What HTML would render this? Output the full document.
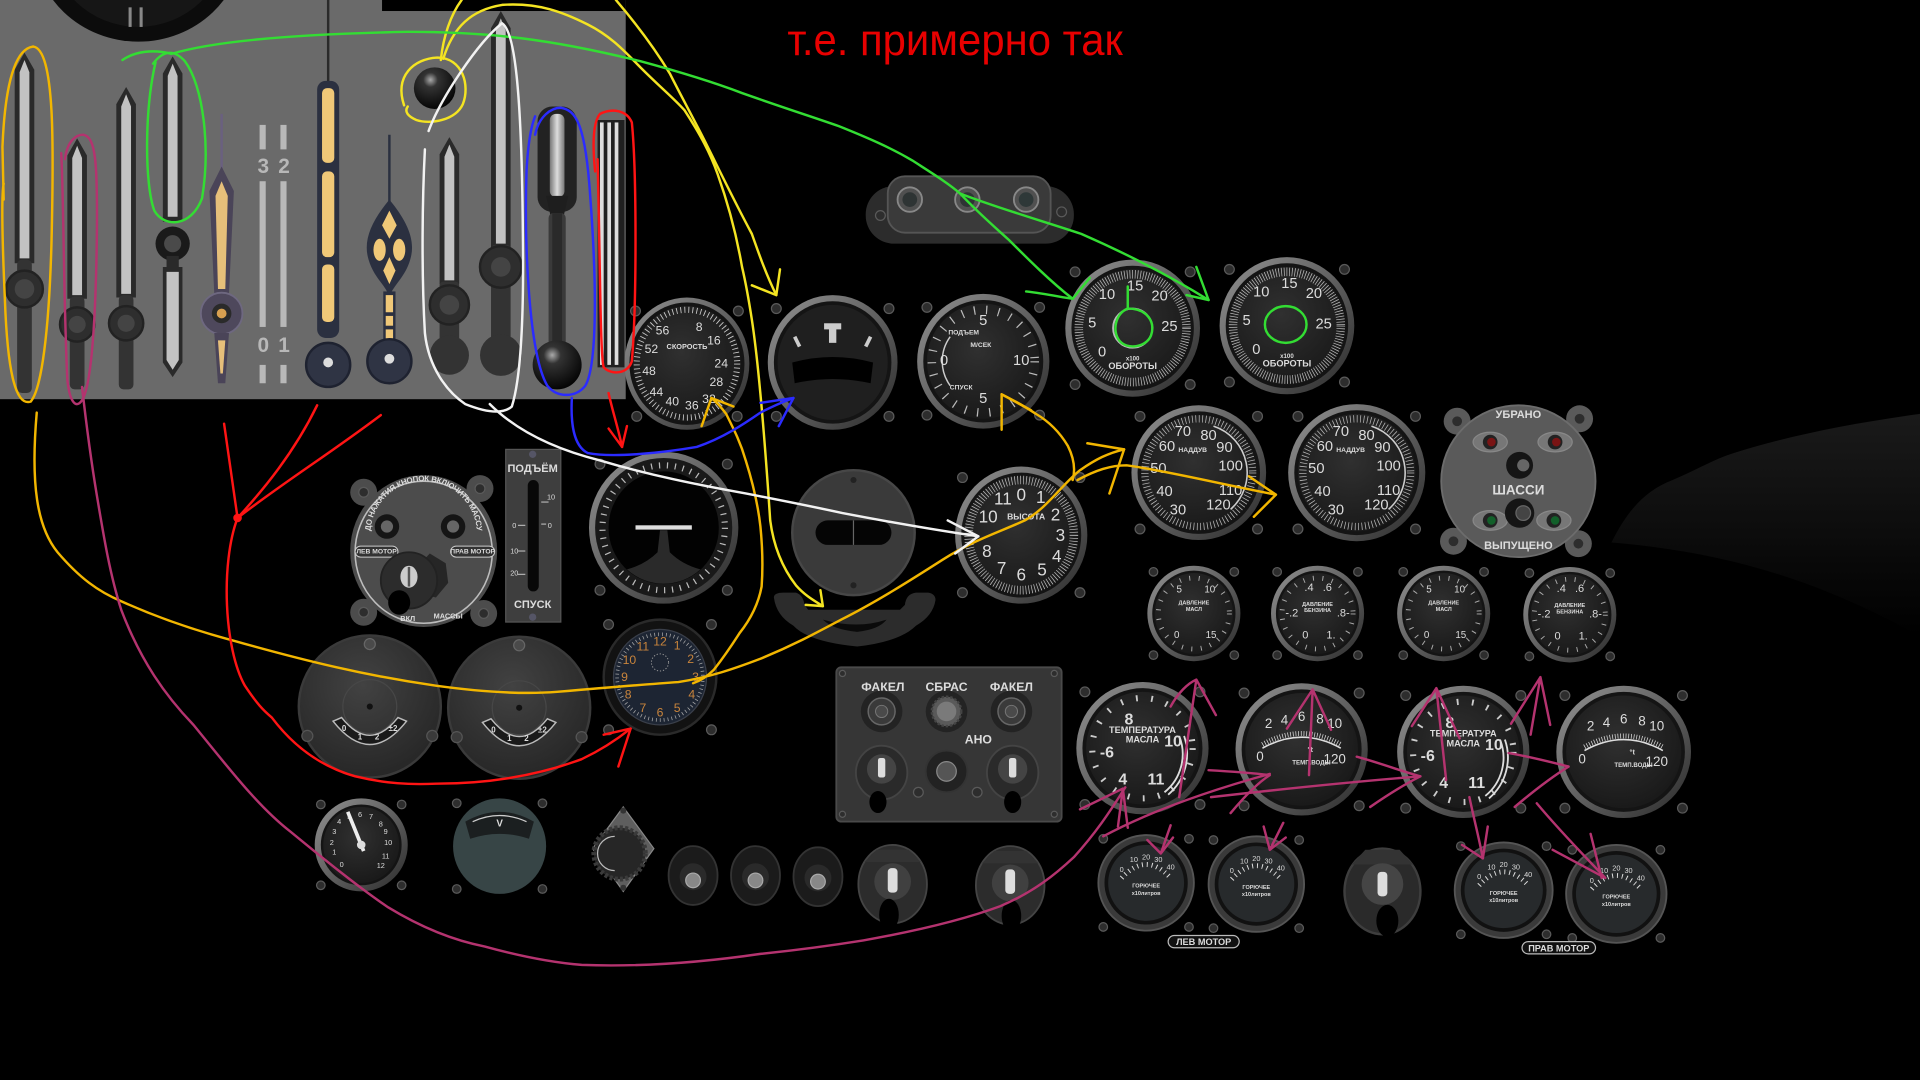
<!DOCTYPE html>
<html><head><meta charset="utf-8"><style>
html,body{margin:0;padding:0;background:#000;width:1920px;height:1080px;overflow:hidden}
svg{display:block;font-weight:bold}
text{font-family:"Liberation Sans Narrow","Liberation Sans","DejaVu Sans",sans-serif;fill:#dcdcdc;text-anchor:middle;dominant-baseline:central}
.clk text{fill:#c8843c}
.sc{fill:#2d2d2d;stroke:#5a5a5a;stroke-width:1}
.an{fill:none;stroke-width:2;stroke-linecap:round;stroke-linejoin:round}
.am{stroke:#f2b600}.ye{stroke:#f4e422}.gr{stroke:#33dd33}.wh{stroke:#f2f2f2}.bl{stroke:#2b2bff}.rd{stroke:#ff1414}.mg{stroke:#b4336f}
</style></head><body>
<svg width="1920" height="1080" viewBox="0 0 1568 882" xmlns="http://www.w3.org/2000/svg">
<defs>
<linearGradient id="rim" x1="0" y1="0" x2="1" y2="1"><stop offset="0" stop-color="#929292"/><stop offset=".5" stop-color="#606060"/><stop offset="1" stop-color="#2a2a2a"/></linearGradient>
<radialGradient id="face" cx=".45" cy=".4" r=".65"><stop offset="0" stop-color="#303030"/><stop offset="1" stop-color="#181818"/></radialGradient>
<radialGradient id="disc" cx=".45" cy=".35" r=".7"><stop offset="0" stop-color="#424242"/><stop offset="1" stop-color="#252525"/></radialGradient>
<radialGradient id="ball" cx=".4" cy=".3" r=".7"><stop offset="0" stop-color="#aaa"/><stop offset=".25" stop-color="#333"/><stop offset="1" stop-color="#050505"/></radialGradient>
<linearGradient id="vg" x1="0" x2="1"><stop offset="0" stop-color="#777"/><stop offset=".5" stop-color="#ddd"/><stop offset="1" stop-color="#777"/></linearGradient>
<linearGradient id="blob" x1="0" y1="0" x2="0" y2="1"><stop offset="0" stop-color="#1a1a1a"/><stop offset="1" stop-color="#000"/></linearGradient>
<path id="magArc" d="M301,446 A46,46 0 1 1 391,446"/>
</defs>

<!-- ===== top-left panel ===== -->
<rect x="0" y="0" width="511" height="326" fill="#6a6a6a"/>
<ellipse cx="113" cy="-48" rx="86" ry="82" fill="#0c0c0c"/>
<ellipse cx="113" cy="-48" rx="72" ry="70" fill="#161616"/>
<rect x="105" y="6" width="2.5" height="16" fill="#888"/><rect x="114" y="6" width="2.5" height="16" fill="#888"/>
<rect x="312" y="0" width="199" height="9" fill="#000"/>

<g><path d="M20,43 L28,57 L28,215 L12,215 L12,57 Z" fill="#2a2a2a"/><path d="M20,49 L24,59 L24,211 L16,211 L16,59 Z" fill="#c2c2c2"/>
<rect x="14" y="212" width="12" height="109" rx="4" fill="#333"/><circle cx="20" cy="236" r="15" fill="#2e2e2e" stroke="#222" stroke-width="2"/><circle cx="20" cy="236" r="8" fill="#444"/></g>
<g><path d="M63,113 L71,127 L71,244 L55,244 L55,127 Z" fill="#2a2a2a"/><path d="M63,119 L67,129 L67,241 L59,241 L59,129 Z" fill="#c2c2c2"/>
<rect x="57" y="242" width="12" height="76" rx="4" fill="#333"/><circle cx="63" cy="265" r="14" fill="#2e2e2e" stroke="#222" stroke-width="2"/><circle cx="63" cy="265" r="7" fill="#444"/></g>
<g><path d="M103,71 L111,85 L111,243 L95,243 L95,85 Z" fill="#2a2a2a"/><path d="M103,77 L107,87 L107,240 L99,240 L99,87 Z" fill="#c2c2c2"/>
<rect x="97" y="241" width="12" height="77" rx="4" fill="#333"/><circle cx="103" cy="264" r="14" fill="#2e2e2e" stroke="#222" stroke-width="2"/><circle cx="103" cy="264" r="7" fill="#444"/></g>
<g><path d="M141,46 L149,60 L149,181 L133,181 L133,60 Z" fill="#2a2a2a"/><path d="M141,52 L145,62 L145,177 L137,177 L137,62 Z" fill="#c2c2c2"/>
<circle cx="141" cy="199" r="14" fill="#1a1a1a"/><circle cx="141" cy="199" r="7" fill="#4a4a4a"/>
<rect x="136" y="209" width="10" height="13" fill="#2a2a2a"/>
<path d="M133,218 L149,218 L149,296 L141,308 L133,296 Z" fill="#2a2a2a"/><path d="M136,222 L146,222 L146,294 L141,302 L136,294 Z" fill="#c2c2c2"/></g>
<g><line x1="181" y1="93" x2="181" y2="140" stroke="#6a6080" stroke-width="2"/>
<path d="M181,136 L191,156 L187,240 L175,240 L171,156 Z" fill="#4a4458"/><path d="M181,148 L186,160 L184,236 L178,236 L176,160 Z" fill="#e6bf7a"/>
<circle cx="181" cy="256" r="17" fill="#4e485c" stroke="#6e6880" stroke-width="1.5"/><circle cx="181" cy="256" r="8" fill="#2a2a2a"/><circle cx="181" cy="256" r="4" fill="#d8a050"/>
<path d="M175,272 L187,272 L184,313 L178,313 Z" fill="#4a4458"/><path d="M178,278 L184,278 L182,305 L180,305 Z" fill="#e6bf7a"/></g>
<g fill="#b8b8b8"><rect x="212" y="102" width="5" height="20"/><rect x="229" y="102" width="5" height="20"/>
<rect x="212" y="148" width="5" height="119"/><rect x="229" y="148" width="5" height="119"/>
<rect x="212" y="298" width="5" height="15"/><rect x="229" y="298" width="5" height="15"/></g>
<text x="215" y="136" style="font-size:17px;fill:#b8b8b8">3</text><text x="232" y="136" style="font-size:17px;fill:#b8b8b8">2</text>
<text x="215" y="282" style="font-size:17px;fill:#b8b8b8">0</text><text x="232" y="282" style="font-size:17px;fill:#b8b8b8">1</text>
<g><line x1="268" y1="0" x2="268" y2="68" stroke="#2a2a2a" stroke-width="2"/>
<rect x="259" y="66" width="18" height="210" rx="7" fill="#2b3040"/>
<rect x="263" y="72" width="10" height="61" rx="4" fill="#f0c878"/><rect x="263" y="140" width="10" height="70" rx="4" fill="#f0c878"/><rect x="263" y="216" width="10" height="47" rx="4" fill="#f0c878"/>
<circle cx="268" cy="298" r="18" fill="#2f3444" stroke="#1e2230" stroke-width="2"/><circle cx="268" cy="296" r="4" fill="#ddd"/></g>
<g><line x1="318" y1="110" x2="318" y2="166" stroke="#2a3040" stroke-width="2"/>
<path d="M318,163 C332,180 340,196 335,212 C331,226 322,232 318,242 C314,232 305,226 301,212 C296,196 304,180 318,163 Z" fill="#2b3040"/>
<path d="M318,172 L324,184 L318,195 L312,184 Z" fill="#f0c878"/><ellipse cx="310" cy="204" rx="5" ry="9" fill="#f0c878"/><ellipse cx="326" cy="204" rx="5" ry="9" fill="#f0c878"/>
<path d="M318,210 L323,221 L318,232 L313,221 Z" fill="#f0c878"/>
<rect x="313" y="238" width="10" height="44" fill="#2b3040"/><rect x="315" y="241" width="6" height="14" fill="#f0c878"/><rect x="315" y="258" width="6" height="8" fill="#f0c878"/><rect x="315" y="269" width="6" height="8" fill="#f0c878"/>
<circle cx="318" cy="295" r="18" fill="#2f3444" stroke="#1e2230" stroke-width="2"/><circle cx="318" cy="293" r="4" fill="#ddd"/></g>
<g><path d="M367,112 L375,126 L375,232 L359,232 L359,126 Z" fill="#2a2a2a"/><path d="M367,118 L371,128 L371,229 L363,229 L363,128 Z" fill="#c2c2c2"/>
<rect x="359" y="230" width="16" height="62" rx="3" fill="#333"/><circle cx="367" cy="249" r="16" fill="#2e2e2e" stroke="#222" stroke-width="2"/><circle cx="367" cy="249" r="8" fill="#444"/>
<circle cx="367" cy="290" r="16" fill="#333"/></g>
<g><path d="M409,9 L417,23 L417,202 L401,202 L401,23 Z" fill="#2a2a2a"/><path d="M409,15 L413,25 L413,199 L405,199 L405,25 Z" fill="#c2c2c2"/>
<rect x="401" y="200" width="16" height="92" rx="3" fill="#333"/><circle cx="409" cy="218" r="17" fill="#2e2e2e" stroke="#222" stroke-width="2"/><circle cx="409" cy="218" r="8" fill="#444"/>
<circle cx="409" cy="290" r="17" fill="#333"/></g>
<g><rect x="439" y="87" width="32" height="86" rx="12" fill="#222"/><rect x="449" y="93" width="12" height="68" rx="5" fill="url(#vg)"/>
<path d="M446,160 L464,160 L460,178 L450,178 Z" fill="#1e1e1e"/><rect x="448" y="174" width="14" height="115" rx="4" fill="#3a3a3a"/><rect x="451" y="174" width="8" height="115" fill="#2a2a2a"/>
<circle cx="455" cy="298" r="20" fill="url(#ball)"/></g>
<g><rect x="488" y="98" width="22" height="202" fill="#202020"/><rect x="490" y="100" width="3" height="198" fill="#ddd"/><rect x="496" y="100" width="3" height="198" fill="#ddd"/><rect x="502" y="100" width="3" height="198" fill="#ddd"/></g>
<circle cx="355" cy="72" r="17" fill="url(#ball)"/>

<!-- right dark blob -->
<path d="M1316,443 C1330,415 1345,400 1366,392 C1385,384 1400,375 1416,370 C1460,356 1510,346 1568,338 L1568,520 C1480,470 1400,450 1316,443 Z" fill="url(#blob)"/>

<!-- periscope bracket -->
<g><rect x="707" y="152" width="170" height="47" rx="23" fill="#2c2c2c"/><rect x="725" y="144" width="133" height="46" rx="14" fill="#3a3a3a" stroke="#555" stroke-width="1.5"/>
<circle cx="743" cy="163" r="10" fill="#505050" stroke="#888" stroke-width="1.5"/><circle cx="743" cy="163" r="6" fill="#2e3434"/>
<circle cx="790" cy="163" r="10" fill="#505050" stroke="#888" stroke-width="1.5"/><circle cx="790" cy="163" r="6" fill="#2e3434"/>
<circle cx="838" cy="163" r="10" fill="#505050" stroke="#888" stroke-width="1.5"/><circle cx="838" cy="163" r="6" fill="#2e3838"/>
<circle cx="719" cy="176" r="4" class="sc"/><circle cx="867" cy="173" r="4" class="sc"/></g>

<!-- SPEED -->
<g transform="translate(561,297)">
<circle cx="-42" cy="-43" r="4" class="sc"/><circle cx="42" cy="-43" r="4" class="sc"/><circle cx="-41" cy="43" r="4" class="sc"/><circle cx="41" cy="43" r="4" class="sc"/>
<ellipse rx="51" ry="54" fill="url(#rim)"/><ellipse rx="47" ry="50" fill="#141414"/><ellipse rx="44" ry="47" fill="url(#face)"/>
<ellipse rx="41" ry="44" fill="none" stroke="#ccc" stroke-width="5" stroke-dasharray="0.7 2.6"/>
<g style="font-size:10px;font-weight:normal"><text x="-20" y="-27">56</text><text x="10" y="-30">8</text><text x="22" y="-19">16</text><text x="-29" y="-12">52</text><text x="28" y="0">24</text><text x="-31" y="6">48</text><text x="24" y="15">28</text><text x="-25" y="23">44</text><text x="18" y="29">32</text><text x="-12" y="31">40</text><text x="4" y="34">36</text></g>
<text x="0" y="-14" style="font-size:6px">СКОРОСТЬ</text></g>

<!-- HORIZON -->
<g transform="translate(680,296)">
<circle cx="-46" cy="-44" r="4" class="sc"/><circle cx="46" cy="-44" r="4" class="sc"/><circle cx="-46" cy="44" r="4" class="sc"/><circle cx="46" cy="44" r="4" class="sc"/>
<ellipse rx="53" ry="55" fill="url(#rim)"/><ellipse rx="48" ry="50" fill="#141414"/><ellipse rx="45" ry="47" fill="#1f1f1f"/>
<rect x="-7" y="-32" width="14" height="5" fill="#ccc"/><path d="M-3,-28 L3,-28 L3,-16 L-3,-16 Z" fill="#ccc"/>
<line x1="-31" y1="-21" x2="-27" y2="-13" stroke="#ccc" stroke-width="3"/><line x1="31" y1="-21" x2="27" y2="-13" stroke="#ccc" stroke-width="3"/>
<path d="M-33,0 Q0,-9 33,0 L31,17 Q0,10 -31,17 Z" fill="#000"/></g>

<!-- VARIOMETER -->
<g transform="translate(803,295)">
<circle cx="-46" cy="-44" r="4" class="sc"/><circle cx="46" cy="-44" r="4" class="sc"/><circle cx="-46" cy="44" r="4" class="sc"/><circle cx="46" cy="44" r="4" class="sc"/>
<ellipse rx="54" ry="55" fill="url(#rim)"/><ellipse rx="49" ry="50" fill="#141414"/><ellipse rx="46" ry="47" fill="url(#face)"/>
<circle r="42" fill="none" stroke="#bbb" stroke-width="7" stroke-dasharray="1 9"/>
<path d="M-27,-20 A34,34 0 0 0 -27,20" fill="none" stroke="#ccc" stroke-width="1.2"/>
<g style="font-size:12px;font-weight:normal"><text x="0" y="-33">5</text><text x="-32" y="0">0</text><text x="31" y="0">10</text><text x="0" y="31">5</text></g>
<g style="font-size:5.5px"><text x="-16" y="-23">ПОДЪЕМ</text><text x="-2" y="-13">М/СЕК</text><text x="-18" y="22">СПУСК</text></g></g>

<!-- TACH 1 -->
<g transform="translate(925,268)">
<circle cx="-47" cy="-46" r="4" class="sc"/><circle cx="47" cy="-46" r="4" class="sc"/><circle cx="-47" cy="46" r="4" class="sc"/><circle cx="47" cy="46" r="4" class="sc"/>
<ellipse rx="55" ry="56" fill="url(#rim)"/><ellipse rx="50" ry="51" fill="#141414"/><ellipse rx="47" ry="48" fill="url(#face)"/>
<circle r="44" fill="none" stroke="#bbb" stroke-width="7" stroke-dasharray="0.6 1.6"/>
<circle r="16" fill="none" stroke="#bbb" stroke-width="1.5"/>
<g style="font-size:12px;font-weight:normal"><text x="2" y="-34">15</text><text x="-21" y="-27">10</text><text x="22" y="-26">20</text><text x="-33" y="-4">5</text><text x="30" y="-1">25</text><text x="-25" y="20">0</text></g>
<text x="0" y="25" style="font-size:5px">х100</text><text x="0" y="31" style="font-size:7.5px">ОБОРОТЫ</text></g>

<!-- TACH 2 -->
<g transform="translate(1051,266)">
<circle cx="-47" cy="-46" r="4" class="sc"/><circle cx="47" cy="-46" r="4" class="sc"/><circle cx="-47" cy="46" r="4" class="sc"/><circle cx="47" cy="46" r="4" class="sc"/>
<ellipse rx="55" ry="56" fill="url(#rim)"/><ellipse rx="50" ry="51" fill="#141414"/><ellipse rx="47" ry="48" fill="url(#face)"/>
<circle r="44" fill="none" stroke="#bbb" stroke-width="7" stroke-dasharray="0.6 1.6"/>
<g style="font-size:12px;font-weight:normal"><text x="2" y="-34">15</text><text x="-21" y="-27">10</text><text x="22" y="-26">20</text><text x="-33" y="-4">5</text><text x="30" y="-1">25</text><text x="-25" y="20">0</text></g>
<text x="0" y="25" style="font-size:5px">х100</text><text x="0" y="31" style="font-size:7.5px">ОБОРОТЫ</text></g>

<!-- NADDUV 1 & 2 -->
<g transform="translate(979,386)">
<circle cx="-48" cy="-46" r="4" class="sc"/><circle cx="48" cy="-46" r="4" class="sc"/><circle cx="-48" cy="46" r="4" class="sc"/><circle cx="48" cy="46" r="4" class="sc"/>
<ellipse rx="55" ry="55" fill="url(#rim)"/><ellipse rx="50" ry="50" fill="#141414"/><ellipse rx="47" ry="47" fill="url(#face)"/>
<circle r="44" fill="none" stroke="#bbb" stroke-width="6" stroke-dasharray="0.6 2.2"/>
<path d="M12,-38 A40,40 0 0 1 26,30" fill="none" stroke="#ccc" stroke-width="1.3"/>
<g style="font-size:12px;font-weight:normal"><text x="-13" y="-33">70</text><text x="8" y="-30">80</text><text x="-26" y="-21">60</text><text x="21" y="-20">90</text><text x="-33" y="-3">50</text><text x="26" y="-5">100</text><text x="-28" y="16">40</text><text x="26" y="15">110</text><text x="-17" y="31">30</text><text x="16" y="27">120</text></g>
<text x="-5" y="-18" style="font-size:5.5px">НАДДУВ</text></g>
<g transform="translate(1108,386)">
<circle cx="-48" cy="-46" r="4" class="sc"/><circle cx="48" cy="-46" r="4" class="sc"/><circle cx="-48" cy="46" r="4" class="sc"/><circle cx="48" cy="46" r="4" class="sc"/>
<ellipse rx="56" ry="56" fill="url(#rim)"/><ellipse rx="51" ry="51" fill="#141414"/><ellipse rx="48" ry="48" fill="url(#face)"/>
<circle r="44" fill="none" stroke="#bbb" stroke-width="6" stroke-dasharray="0.6 2.2"/>
<path d="M12,-38 A40,40 0 0 1 26,30" fill="none" stroke="#ccc" stroke-width="1.3"/>
<g style="font-size:12px;font-weight:normal"><text x="-13" y="-33">70</text><text x="8" y="-30">80</text><text x="-26" y="-21">60</text><text x="21" y="-20">90</text><text x="-33" y="-3">50</text><text x="26" y="-5">100</text><text x="-28" y="16">40</text><text x="26" y="15">110</text><text x="-17" y="31">30</text><text x="16" y="27">120</text></g>
<text x="-5" y="-18" style="font-size:5.5px">НАДДУВ</text></g>

<!-- SHASSI panel -->
<g transform="translate(1240,393)">
<circle cx="-50" cy="-49" r="11" fill="#5a5a5a"/><circle cx="50" cy="-51" r="11" fill="#5a5a5a"/><circle cx="-53" cy="49" r="11" fill="#5a5a5a"/><circle cx="49" cy="51" r="11" fill="#5a5a5a"/>
<ellipse rx="63" ry="62" fill="#5a5a5a" stroke="#6c6c6c" stroke-width="1.5"/>
<circle cx="-50" cy="-49" r="4.5" class="sc"/><circle cx="50" cy="-51" r="4.5" class="sc"/><circle cx="-53" cy="49" r="4.5" class="sc"/><circle cx="49" cy="51" r="4.5" class="sc"/>
<ellipse cx="-23" cy="-32" rx="14" ry="8" fill="#777" stroke="#888"/><circle cx="-23" cy="-32" r="6" fill="#222"/><circle cx="-22" cy="-32" r="3.5" fill="#7a1414"/>
<ellipse cx="30" cy="-32" rx="14" ry="8" fill="#777" stroke="#888"/><circle cx="30" cy="-32" r="6" fill="#222"/><circle cx="31" cy="-32" r="3.5" fill="#7a1414"/>
<ellipse cx="-23" cy="32" rx="14" ry="8" fill="#777" stroke="#888"/><circle cx="-23" cy="32" r="6" fill="#222"/><circle cx="-22" cy="32" r="3.5" fill="#12602a"/>
<ellipse cx="29" cy="32" rx="14" ry="8" fill="#777" stroke="#888"/><circle cx="29" cy="32" r="6" fill="#222"/><circle cx="30" cy="32" r="3.5" fill="#12602a"/>
<circle cx="1" cy="-13" r="11" fill="#151515"/><circle cx="4" cy="-13" r="5" fill="#666"/>
<circle cx="1" cy="26" r="12" fill="#151515"/><circle cx="4" cy="26" r="6" fill="#444" stroke="#666"/>
<text x="0" y="-54" style="font-size:9px">УБРАНО</text><text x="0" y="7" style="font-size:11px">ШАССИ</text><text x="0" y="53" style="font-size:9px">ВЫПУЩЕНО</text></g>

<!-- small pressure gauges -->
<g transform="translate(975,501)">
<circle cx="-33" cy="-34" r="3.5" class="sc"/><circle cx="33" cy="-34" r="3.5" class="sc"/><circle cx="-33" cy="34" r="3.5" class="sc"/><circle cx="33" cy="34" r="3.5" class="sc"/>
<ellipse rx="38" ry="39" fill="url(#rim)"/><ellipse rx="34" ry="35" fill="#141414"/><ellipse rx="32" ry="33" fill="url(#face)"/>
<circle r="29" fill="none" stroke="#aaa" stroke-width="4" stroke-dasharray="0.8 7"/>
<g style="font-size:8px;font-weight:normal"><text x="-12" y="-19">5</text><text x="13" y="-19">10</text><text x="-14" y="18">0</text><text x="14" y="18">15</text></g>
<text x="0" y="-8" style="font-size:4.5px">ДАВЛЕНИЕ</text><text x="0" y="-3" style="font-size:4.5px">МАСЛ</text></g>
<g transform="translate(1076,501)">
<circle cx="-33" cy="-34" r="3.5" class="sc"/><circle cx="33" cy="-34" r="3.5" class="sc"/><circle cx="-33" cy="34" r="3.5" class="sc"/><circle cx="33" cy="34" r="3.5" class="sc"/>
<ellipse rx="38" ry="39" fill="url(#rim)"/><ellipse rx="34" ry="35" fill="#141414"/><ellipse rx="32" ry="33" fill="url(#face)"/>
<circle r="29" fill="none" stroke="#aaa" stroke-width="4" stroke-dasharray="0.8 7"/>
<g style="font-size:9px;font-weight:normal"><text x="-7" y="-21">.4</text><text x="8" y="-21">.6</text><text x="-21" y="0">-.2</text><text x="21" y="0">.8-</text><text x="-10" y="18">0</text><text x="11" y="18">1.</text></g>
<text x="0" y="-7" style="font-size:4.5px">ДАВЛЕНИЕ</text><text x="0" y="-2" style="font-size:4.5px">БЕНЗИНА</text></g>
<g transform="translate(1179,501)">
<circle cx="-33" cy="-34" r="3.5" class="sc"/><circle cx="33" cy="-34" r="3.5" class="sc"/><circle cx="-33" cy="34" r="3.5" class="sc"/><circle cx="33" cy="34" r="3.5" class="sc"/>
<ellipse rx="38" ry="39" fill="url(#rim)"/><ellipse rx="34" ry="35" fill="#141414"/><ellipse rx="32" ry="33" fill="url(#face)"/>
<circle r="29" fill="none" stroke="#aaa" stroke-width="4" stroke-dasharray="0.8 7"/>
<g style="font-size:8px;font-weight:normal"><text x="-12" y="-19">5</text><text x="13" y="-19">10</text><text x="-14" y="18">0</text><text x="14" y="18">15</text></g>
<text x="0" y="-8" style="font-size:4.5px">ДАВЛЕНИЕ</text><text x="0" y="-3" style="font-size:4.5px">МАСЛ</text></g>
<g transform="translate(1282,502)">
<circle cx="-33" cy="-34" r="3.5" class="sc"/><circle cx="33" cy="-34" r="3.5" class="sc"/><circle cx="-33" cy="34" r="3.5" class="sc"/><circle cx="33" cy="34" r="3.5" class="sc"/>
<ellipse rx="38" ry="39" fill="url(#rim)"/><ellipse rx="34" ry="35" fill="#141414"/><ellipse rx="32" ry="33" fill="url(#face)"/>
<circle r="29" fill="none" stroke="#aaa" stroke-width="4" stroke-dasharray="0.8 7"/>
<g style="font-size:9px;font-weight:normal"><text x="-7" y="-21">.4</text><text x="8" y="-21">.6</text><text x="-21" y="0">-.2</text><text x="21" y="0">.8-</text><text x="-10" y="18">0</text><text x="11" y="18">1.</text></g>
<text x="0" y="-7" style="font-size:4.5px">ДАВЛЕНИЕ</text><text x="0" y="-2" style="font-size:4.5px">БЕНЗИНА</text></g>

<!-- temperature gauges -->
<g transform="translate(933,611)">
<circle cx="-47" cy="-46" r="4" class="sc"/><circle cx="47" cy="-46" r="4" class="sc"/><circle cx="-47" cy="46" r="4" class="sc"/><circle cx="47" cy="46" r="4" class="sc"/>
<ellipse rx="54" ry="54" fill="url(#rim)"/><ellipse rx="49" ry="49" fill="#141414"/><ellipse rx="46" ry="46" fill="url(#face)"/>
<circle r="41" fill="none" stroke="#ccc" stroke-width="5" stroke-dasharray="1.5 11"/>
<path d="M30,-10 A40,40 0 0 1 18,36" fill="none" stroke="#ddd" stroke-width="1.5"/><path d="M34,-10 A44,44 0 0 1 21,38" fill="none" stroke="#ddd" stroke-width="1.5"/>
<g style="font-size:13px"><text x="-11" y="-23">8</text><text x="25" y="-5">10</text><text x="-29" y="4">-6</text><text x="-16" y="26">4</text><text x="11" y="26">11</text></g>
<text x="0" y="-15" style="font-size:7.5px">ТЕМПЕРАТУРА</text><text x="0" y="-7" style="font-size:7.5px">МАСЛА</text></g>
<g transform="translate(1063,612)">
<circle cx="-47" cy="-46" r="4" class="sc"/><circle cx="47" cy="-46" r="4" class="sc"/><circle cx="-47" cy="46" r="4" class="sc"/><circle cx="47" cy="46" r="4" class="sc"/>
<ellipse rx="54" ry="54" fill="url(#rim)"/><ellipse rx="49" ry="49" fill="#141414"/><ellipse rx="46" ry="46" fill="url(#face)"/>
<path d="M-32,-1 Q0,-19 32,-1" fill="none" stroke="#ddd" stroke-width="1.3"/><path d="M-32,-4 Q0,-22 32,-4" fill="none" stroke="#ddd" stroke-width="4" stroke-dasharray="0.6 1.6"/>
<g style="font-size:11px;font-weight:normal"><text x="-27" y="-21">2</text><text x="-14" y="-24">4</text><text x="0" y="-27">6</text><text x="15" y="-25">8</text><text x="27" y="-21">10</text><text x="-34" y="6">0</text><text x="27" y="8">120</text></g>
<text x="7" y="0" style="font-size:6px">°t</text><text x="8" y="11" style="font-size:5px">ТЕМП.ВОДЫ</text></g>
<g transform="translate(1195,614)">
<circle cx="-47" cy="-46" r="4" class="sc"/><circle cx="47" cy="-46" r="4" class="sc"/><circle cx="-47" cy="46" r="4" class="sc"/><circle cx="47" cy="46" r="4" class="sc"/>
<ellipse rx="54" ry="54" fill="url(#rim)"/><ellipse rx="49" ry="49" fill="#141414"/><ellipse rx="46" ry="46" fill="url(#face)"/>
<circle r="41" fill="none" stroke="#ccc" stroke-width="5" stroke-dasharray="1.5 11"/>
<path d="M30,-10 A40,40 0 0 1 18,36" fill="none" stroke="#ddd" stroke-width="1.5"/><path d="M34,-10 A44,44 0 0 1 21,38" fill="none" stroke="#ddd" stroke-width="1.5"/>
<g style="font-size:13px"><text x="-11" y="-23">8</text><text x="25" y="-5">10</text><text x="-29" y="4">-6</text><text x="-16" y="26">4</text><text x="11" y="26">11</text></g>
<text x="0" y="-15" style="font-size:7.5px">ТЕМПЕРАТУРА</text><text x="0" y="-7" style="font-size:7.5px">МАСЛА</text></g>
<g transform="translate(1326,614)">
<circle cx="-48" cy="-46" r="4" class="sc"/><circle cx="48" cy="-46" r="4" class="sc"/><circle cx="-48" cy="46" r="4" class="sc"/><circle cx="48" cy="46" r="4" class="sc"/>
<ellipse rx="55" ry="54" fill="url(#rim)"/><ellipse rx="50" ry="49" fill="#141414"/><ellipse rx="47" ry="46" fill="url(#face)"/>
<path d="M-32,-1 Q0,-19 32,-1" fill="none" stroke="#ddd" stroke-width="1.3"/><path d="M-32,-4 Q0,-22 32,-4" fill="none" stroke="#ddd" stroke-width="4" stroke-dasharray="0.6 1.6"/>
<g style="font-size:11px;font-weight:normal"><text x="-27" y="-21">2</text><text x="-14" y="-24">4</text><text x="0" y="-27">6</text><text x="15" y="-25">8</text><text x="27" y="-21">10</text><text x="-34" y="6">0</text><text x="27" y="8">120</text></g>
<text x="7" y="0" style="font-size:6px">°t</text><text x="8" y="11" style="font-size:5px">ТЕМП.ВОДЫ</text></g>

<!-- fuel gauges -->
<g transform="translate(936,721)">
<circle cx="-35" cy="-36" r="3.5" class="sc"/><circle cx="35" cy="-36" r="3.5" class="sc"/><circle cx="-35" cy="36" r="3.5" class="sc"/><circle cx="35" cy="36" r="3.5" class="sc"/>
<ellipse rx="39" ry="39" fill="#3a3a3a" stroke="#555" stroke-width="1.5"/><ellipse rx="34" ry="34" fill="#111"/><ellipse rx="31" ry="31" fill="#272a2c"/>
<path d="M-20,-4 Q0,-26 20,-4" fill="none" stroke="#ddd" stroke-width="4" stroke-dasharray="0.8 3.2"/>
<g style="font-size:6px;font-weight:normal"><text x="-20" y="-11">0</text><text x="-10" y="-19">10</text><text x="0" y="-21">20</text><text x="10" y="-19">30</text><text x="20" y="-13">40</text></g>
<text x="0" y="3" style="font-size:4.5px">ГОРЮЧЕЕ</text><text x="0" y="9" style="font-size:4.5px">х10литров</text></g>
<g transform="translate(1026,722)">
<circle cx="-35" cy="-36" r="3.5" class="sc"/><circle cx="35" cy="-36" r="3.5" class="sc"/><circle cx="-35" cy="36" r="3.5" class="sc"/><circle cx="35" cy="36" r="3.5" class="sc"/>
<ellipse rx="39" ry="39" fill="#3a3a3a" stroke="#555" stroke-width="1.5"/><ellipse rx="34" ry="34" fill="#111"/><ellipse rx="31" ry="31" fill="#272a2c"/>
<path d="M-20,-4 Q0,-26 20,-4" fill="none" stroke="#ddd" stroke-width="4" stroke-dasharray="0.8 3.2"/>
<g style="font-size:6px;font-weight:normal"><text x="-20" y="-11">0</text><text x="-10" y="-19">10</text><text x="0" y="-21">20</text><text x="10" y="-19">30</text><text x="20" y="-13">40</text></g>
<text x="0" y="3" style="font-size:4.5px">ГОРЮЧЕЕ</text><text x="0" y="9" style="font-size:4.5px">х10литров</text></g>
<g transform="translate(1228,727)">
<circle cx="-35" cy="-36" r="3.5" class="sc"/><circle cx="35" cy="-36" r="3.5" class="sc"/><circle cx="-35" cy="36" r="3.5" class="sc"/><circle cx="35" cy="36" r="3.5" class="sc"/>
<ellipse rx="40" ry="39" fill="#3a3a3a" stroke="#555" stroke-width="1.5"/><ellipse rx="35" ry="34" fill="#111"/><ellipse rx="32" ry="31" fill="#272a2c"/>
<path d="M-20,-4 Q0,-26 20,-4" fill="none" stroke="#ddd" stroke-width="4" stroke-dasharray="0.8 3.2"/>
<g style="font-size:6px;font-weight:normal"><text x="-20" y="-11">0</text><text x="-10" y="-19">10</text><text x="0" y="-21">20</text><text x="10" y="-19">30</text><text x="20" y="-13">40</text></g>
<text x="0" y="3" style="font-size:4.5px">ГОРЮЧЕЕ</text><text x="0" y="9" style="font-size:4.5px">х10литров</text></g>
<g transform="translate(1320,730)">
<circle cx="-36" cy="-36" r="3.5" class="sc"/><circle cx="36" cy="-36" r="3.5" class="sc"/><circle cx="-36" cy="36" r="3.5" class="sc"/><circle cx="36" cy="36" r="3.5" class="sc"/>
<ellipse rx="41" ry="40" fill="#3a3a3a" stroke="#555" stroke-width="1.5"/><ellipse rx="36" ry="35" fill="#111"/><ellipse rx="33" ry="32" fill="#272a2c"/>
<path d="M-20,-4 Q0,-26 20,-4" fill="none" stroke="#ddd" stroke-width="4" stroke-dasharray="0.8 3.2"/>
<g style="font-size:6px;font-weight:normal"><text x="-20" y="-11">0</text><text x="-10" y="-19">10</text><text x="0" y="-21">20</text><text x="10" y="-19">30</text><text x="20" y="-13">40</text></g>
<text x="0" y="3" style="font-size:4.5px">ГОРЮЧЕЕ</text><text x="0" y="9" style="font-size:4.5px">х10литров</text></g>
<g><ellipse cx="1129" cy="728" rx="31" ry="35" fill="#2a2a2a" stroke="#3e3e3e" stroke-width="2"/><path d="M1104,706 L1115,694 L1143,694 L1154,706 Z" fill="#333"/>
<circle cx="1129" cy="722" r="17" fill="#454545"/><rect x="1125" y="712" width="8" height="20" rx="3" fill="#ddd"/><ellipse cx="1133" cy="752" rx="9" ry="13" fill="#000"/></g>
<rect x="954" y="764" width="58" height="10" rx="5" fill="#111" stroke="#bbb" stroke-width="1"/><text x="983" y="769.5" style="font-size:7.5px">ЛЕВ МОТОР</text>
<rect x="1243" y="769" width="60" height="10" rx="5" fill="#111" stroke="#bbb" stroke-width="1"/><text x="1273" y="774.5" style="font-size:7.5px">ПРАВ МОТОР</text>

<!-- magneto panel -->
<g><circle cx="297" cy="402" r="11" fill="#4c4c4c"/><circle cx="392" cy="399" r="11" fill="#4c4c4c"/><circle cx="297" cy="500" r="11" fill="#4c4c4c"/><circle cx="395" cy="501" r="11" fill="#4c4c4c"/>
<ellipse cx="346" cy="450" rx="60" ry="62" fill="#4c4c4c"/><ellipse cx="346" cy="451" rx="56" ry="58" fill="none" stroke="#bdbdbd" stroke-width="1.3"/>
<circle cx="297" cy="402" r="4" class="sc"/><circle cx="392" cy="399" r="4" class="sc"/><circle cx="297" cy="500" r="4" class="sc"/><circle cx="395" cy="501" r="4" class="sc"/>
<text style="font-size:6.5px" dominant-baseline="auto"><textPath href="#magArc" startOffset="50%">ДО НАЖАТИЯ КНОПОК ВКЛЮЧИТЬ МАССУ</textPath></text>
<circle cx="316" cy="430" r="10" fill="#151515"/><circle cx="316" cy="430" r="5" fill="#666"/>
<circle cx="370" cy="430" r="10" fill="#151515"/><circle cx="370" cy="430" r="5" fill="#666"/>
<rect x="290" y="446" width="35" height="9" rx="4.5" fill="#333" stroke="#ccc" stroke-width=".8"/><text x="307.5" y="450.7" style="font-size:5.5px">ЛЕВ МОТОР</text>
<rect x="368" y="446" width="36" height="9" rx="4.5" fill="#333" stroke="#ccc" stroke-width=".8"/><text x="386" y="450.7" style="font-size:5.5px">ПРАВ МОТОР</text>
<path d="M351,452 L364,460 L366,476 L356,488 L340,484 L336,468 Z" fill="#262626"/>
<circle cx="334" cy="474" r="23" fill="#2c2c2c" stroke="#222" stroke-width="1.5"/><ellipse cx="334" cy="471" rx="7" ry="9" fill="#ccc"/><rect x="333" y="463" width="2" height="16" fill="#555"/>
<ellipse cx="326" cy="492" rx="9" ry="10" fill="#000"/>
<text x="333" y="505" style="font-size:6px">ВКЛ</text><text x="366" y="503" style="font-size:6px">МАССЫ</text></g>

<!-- slider -->
<g><rect x="413" y="367" width="45" height="141" fill="#3e3e3e" stroke="#555" stroke-width="1"/>
<circle cx="435" cy="371" r="3" fill="#556"/><circle cx="435" cy="504" r="3" fill="#556"/>
<text x="435" y="383" style="font-size:9px">ПОДЪЁМ</text><text x="435" y="494" style="font-size:9px">СПУСК</text>
<rect x="431" y="392" width="9" height="91" rx="4.5" fill="#080808"/>
<g style="font-size:6px;font-weight:normal"><text x="450" y="406">10</text><text x="420" y="429">0</text><text x="449" y="429">0</text><text x="420" y="450">10</text><text x="420" y="468">20</text></g>
<g stroke="#ccc" stroke-width=".8"><line x1="442" y1="410" x2="448" y2="410"/><line x1="442" y1="428" x2="446" y2="428"/><line x1="423" y1="429" x2="429" y2="429"/><line x1="423" y1="450" x2="429" y2="450"/><line x1="423" y1="469" x2="429" y2="469"/></g></g>

<!-- attitude indicator -->
<g transform="translate(542,431)">
<circle cx="-52" cy="-52" r="4" class="sc"/><circle cx="52" cy="-52" r="4" class="sc"/><circle cx="-52" cy="51" r="4" class="sc"/><circle cx="52" cy="51" r="4" class="sc"/>
<ellipse rx="61" ry="62" fill="url(#rim)"/><ellipse rx="56" ry="57" fill="#191919"/>
<ellipse rx="50" ry="51" fill="none" stroke="#bbb" stroke-width="5" stroke-dasharray="1 5.5"/>
<ellipse rx="45" ry="46" fill="#020202"/>
<path d="M-3,2 L-5,20 Q-15,30 -30,34 A45,46 0 0 0 30,34 Q15,30 5,20 L3,2 Z" fill="#2a2a2a"/>
<rect x="-23" y="-2" width="46" height="3.5" fill="#ddd"/></g>

<!-- lid -->
<g><ellipse cx="697" cy="435" rx="50" ry="51" fill="#3a3a3a" stroke="#474747" stroke-width="2"/>
<circle cx="697" cy="392" r="2.5" fill="#222"/><circle cx="697" cy="478" r="2.5" fill="#222"/>
<rect x="666" y="425" width="62" height="20" rx="10" fill="#050505"/><line x1="697" y1="425" x2="697" y2="445" stroke="#666" stroke-width="1"/></g>
<path d="M632,488 Q632,484 640,484 L650,484 Q656,486 657,494 L660,498 L735,498 L739,494 Q740,485 748,484 L758,484 Q764,485 764,490 Q762,503 748,511 Q735,524 700,528 Q660,524 648,511 Q634,503 632,488 Z" fill="#2c2c2c"/>
<path d="M672,506 Q700,514 724,506 Q718,514 700,516 Q680,514 672,506 Z" fill="#0a0a0a"/>

<!-- altimeter -->
<g transform="translate(834,437)">
<circle cx="-48" cy="-47" r="4" class="sc"/><circle cx="48" cy="-47" r="4" class="sc"/><circle cx="-48" cy="47" r="4" class="sc"/><circle cx="48" cy="47" r="4" class="sc"/>
<ellipse rx="54" ry="56" fill="url(#rim)"/><ellipse rx="49" ry="51" fill="#141414"/><ellipse rx="46" ry="48" fill="url(#face)"/>
<ellipse rx="43" ry="45" fill="none" stroke="#bbb" stroke-width="7" stroke-dasharray="0.6 1.8"/>
<g style="font-size:14px;font-weight:normal"><text x="0" y="-33">0</text><text x="-15" y="-30">11</text><text x="16" y="-31">1</text><text x="-27" y="-15">10</text><text x="28" y="-17">2</text><text x="32" y="0">3</text><text x="-28" y="13">8</text><text x="29" y="17">4</text><text x="-16" y="27">7</text><text x="0" y="32">6</text><text x="17" y="28">5</text></g>
<text x="4" y="-15" style="font-size:7px">ВЫСОТА</text></g>

<!-- clock -->
<g transform="translate(539,553)">
<circle cx="-42" cy="-43" r="4" class="sc"/><circle cx="42" cy="-43" r="4" class="sc"/><circle cx="-42" cy="43" r="4" class="sc"/><circle cx="42" cy="43" r="4" class="sc"/>
<ellipse rx="46" ry="47" fill="#121212" stroke="#2a2a2a" stroke-width="2"/><ellipse rx="38" ry="39" fill="#1d2533" stroke="#3a3f4a" stroke-width="1"/>
<circle r="35" fill="none" stroke="#aaa" stroke-width="3" stroke-dasharray="0.6 2.6"/>
<circle cx="0" cy="-12" r="7" fill="none" stroke="#999" stroke-width=".8" stroke-dasharray="1 1.5"/>
<g class="clk" style="font-size:10px;font-weight:normal"><text x="0" y="-29">12</text><text x="14" y="-26">1</text><text x="25" y="-15">2</text><text x="29" y="0">3</text><text x="26" y="14">4</text><text x="14" y="25">5</text><text x="0" y="29">6</text><text x="-14" y="25">7</text><text x="-26" y="14">8</text><text x="-29" y="0">9</text><text x="-25" y="-14">10</text><text x="-14" y="-25">11</text></g></g>

<!-- covered gauges -->
<g transform="translate(302,577)">
<circle r="58" fill="url(#disc)" stroke="#3a3a3a" stroke-width="2"/>
<circle cx="0" cy="-51" r="4.5" fill="#4a4a4a" stroke="#666"/><circle cx="-51" cy="24" r="4.5" fill="#3a3a3a" stroke="#555"/><circle cx="51" cy="24" r="4.5" fill="#3a3a3a" stroke="#555"/>
<circle r="22" fill="none" stroke="#474747" stroke-width="1"/><circle r="2.5" fill="#111"/>
<path d="M-30,12 Q0,50 30,12 L23,9 Q0,38 -23,9 Z" fill="#1a1a1a" stroke="#bbb" stroke-width="1.2"/>
<g style="font-size:6.5px"><text x="-21" y="18">0</text><text x="-8" y="25">1</text><text x="6" y="25">2</text><text x="19" y="18">±2</text></g></g>
<g transform="translate(424,578)">
<circle r="58" fill="url(#disc)" stroke="#3a3a3a" stroke-width="2"/>
<circle cx="0" cy="-51" r="4.5" fill="#4a4a4a" stroke="#666"/><circle cx="-51" cy="24" r="4.5" fill="#3a3a3a" stroke="#555"/><circle cx="51" cy="24" r="4.5" fill="#3a3a3a" stroke="#555"/>
<circle r="22" fill="none" stroke="#474747" stroke-width="1"/><circle r="2.5" fill="#111"/>
<path d="M-30,12 Q0,50 30,12 L23,9 Q0,38 -23,9 Z" fill="#1a1a1a" stroke="#bbb" stroke-width="1.2"/>
<g style="font-size:6.5px"><text x="-21" y="18">0</text><text x="-8" y="25">1</text><text x="6" y="25">2</text><text x="19" y="18">±2</text></g></g>

<!-- ФАКЕЛ panel -->
<g><rect x="683" y="545" width="184" height="126" rx="4" fill="#363636" stroke="#4a4a4a" stroke-width="1.5"/>
<circle cx="688" cy="550" r="2.5" class="sc"/><circle cx="861" cy="550" r="2.5" class="sc"/><circle cx="688" cy="665" r="2.5" class="sc"/><circle cx="861" cy="665" r="2.5" class="sc"/>
<text x="721" y="561" style="font-size:10px">ФАКЕЛ</text><text x="773" y="561" style="font-size:10px">СБРАС</text><text x="826" y="561" style="font-size:10px">ФАКЕЛ</text>
<circle cx="720" cy="581" r="17" fill="#232323"/><circle cx="720" cy="581" r="11" fill="#3a3a3a" stroke="#666" stroke-width="1.2"/><circle cx="720" cy="581" r="5" fill="#4a4a4a" stroke="#777" stroke-width=".8"/>
<circle cx="773" cy="581" r="17" fill="#232323"/><circle cx="773" cy="581" r="12" fill="#5a5a5a" stroke="#444" stroke-width="2" stroke-dasharray="2 1.5"/><circle cx="773" cy="581" r="8" fill="#7a7a7a"/>
<circle cx="826" cy="581" r="17" fill="#232323"/><circle cx="826" cy="581" r="11" fill="#3a3a3a" stroke="#666" stroke-width="1.2"/><circle cx="826" cy="581" r="5" fill="#4a4a4a" stroke="#777" stroke-width=".8"/>
<text x="799" y="604" style="font-size:10px">АНО</text>
<ellipse cx="720" cy="631" rx="21" ry="22" fill="#2a2a2a" stroke="#444" stroke-width="1.5"/><circle cx="720" cy="628" r="12" fill="#444"/><rect x="717" y="619" width="6" height="16" rx="2" fill="#ddd"/><ellipse cx="717" cy="655" rx="7" ry="9" fill="#000"/>
<circle cx="773" cy="630" r="17" fill="#222" stroke="#333" stroke-width="1.5"/><circle cx="773" cy="630" r="8" fill="#555" stroke="#888" stroke-width="1"/>
<ellipse cx="827" cy="631" rx="21" ry="22" fill="#2a2a2a" stroke="#444" stroke-width="1.5"/><circle cx="827" cy="628" r="12" fill="#444"/><rect x="824" y="619" width="6" height="16" rx="2" fill="#ddd"/><ellipse cx="827" cy="655" rx="7" ry="9" fill="#000"/>
<circle cx="750" cy="647" r="4" class="sc"/><circle cx="798" cy="647" r="4" class="sc"/></g>

<!-- bottom row -->
<g transform="translate(295,690)">
<circle cx="-33" cy="-33" r="3.5" class="sc"/><circle cx="33" cy="-33" r="3.5" class="sc"/><circle cx="-33" cy="33" r="3.5" class="sc"/><circle cx="33" cy="33" r="3.5" class="sc"/>
<ellipse rx="38" ry="38" fill="url(#rim)"/><ellipse rx="33" ry="33" fill="#141414"/><ellipse rx="31" ry="31" fill="url(#face)"/>
<g style="font-size:6px;font-weight:normal"><text x="-16" y="16">0</text><text x="-22" y="6">1</text><text x="-24" y="-2">2</text><text x="-22" y="-11">3</text><text x="-18" y="-19">4</text><text x="-10" y="-23">5</text><text x="-1" y="-25">6</text><text x="8" y="-23">7</text><text x="16" y="-17">8</text><text x="20" y="-11">9</text><text x="22" y="-2">10</text><text x="20" y="9">11</text><text x="16" y="17">12</text></g>
<line x1="2" y1="5" x2="-11" y2="-27" stroke="#eee" stroke-width="3"/><circle r="3.5" fill="#ddd"/></g>
<g transform="translate(408,691)">
<circle cx="-35" cy="-35" r="3.5" class="sc"/><circle cx="35" cy="-35" r="3.5" class="sc"/><circle cx="-35" cy="35" r="3.5" class="sc"/><circle cx="35" cy="35" r="3.5" class="sc"/>
<ellipse rx="38" ry="39" fill="#374546"/>
<path d="M-28,-20 Q0,-36 28,-20 L24,-6 Q0,-14 -24,-6 Z" fill="#1b1f20"/>
<path d="M-22,-20 Q0,-30 22,-20" fill="none" stroke="#ccc" stroke-width="1"/><text x="0" y="-18" style="font-size:8px">V</text></g>
<g><path d="M509,659 L534,693 L509,728 L484,693 Z" fill="#5e5e5e" stroke="#888" stroke-width="1"/><circle cx="509" cy="662" r="2.5" fill="#333"/><circle cx="509" cy="725" r="2.5" fill="#333"/>
<circle cx="506" cy="697" r="21" fill="#262626" stroke="#3a3a3a" stroke-width="4" stroke-dasharray="2.5 1.8"/><path d="M502,683 A14,14 0 0 0 502,711" fill="none" stroke="#bbb" stroke-width="1"/></g>
<g><ellipse cx="566" cy="715" rx="20" ry="24" fill="#1b1b1b" stroke="#333" stroke-width="1.5"/><circle cx="566" cy="716" r="11" fill="#2a2a2a"/><circle cx="566" cy="719" r="6" fill="#888" stroke="#aaa" stroke-width="1"/></g>
<g><ellipse cx="617" cy="715" rx="20" ry="24" fill="#1b1b1b" stroke="#333" stroke-width="1.5"/><circle cx="617" cy="716" r="11" fill="#2a2a2a"/><circle cx="617" cy="719" r="6" fill="#888" stroke="#aaa" stroke-width="1"/></g>
<g><ellipse cx="668" cy="716" rx="20" ry="24" fill="#1b1b1b" stroke="#333" stroke-width="1.5"/><circle cx="668" cy="717" r="11" fill="#2a2a2a"/><circle cx="668" cy="720" r="6" fill="#888" stroke="#aaa" stroke-width="1"/></g>
<g><ellipse cx="729" cy="722" rx="28" ry="32" fill="#2c2c2c" stroke="#444" stroke-width="1.5"/><path d="M706,704 L716,694 L742,694 L752,704 Z" fill="#333"/><circle cx="729" cy="720" r="15" fill="#404040"/><rect x="725" y="709" width="8" height="20" rx="3" fill="#ddd"/><ellipse cx="726" cy="747" rx="8" ry="13" fill="#000"/></g>
<g><ellipse cx="825" cy="723" rx="28" ry="32" fill="#2c2c2c" stroke="#444" stroke-width="1.5"/><path d="M802,705 L812,695 L838,695 L848,705 Z" fill="#333"/><circle cx="825" cy="721" r="15" fill="#404040"/><rect x="821" y="710" width="8" height="20" rx="3" fill="#ddd"/><ellipse cx="826" cy="748" rx="8" ry="13" fill="#000"/></g>

<!-- red handwriting -->
<text x="643" y="33" textLength="274" lengthAdjust="spacingAndGlyphs" style="font-size:36px;font-weight:normal;fill:#e80000;text-anchor:start;font-family:'Liberation Sans Narrow','Liberation Sans',sans-serif">т.е. примерно так</text>

<!-- annotations -->
<path class="an am" d="M27,38 C45,40 44,120 42,200 C40,270 34,318 25,328 C12,332 6,300 4,245 C2,200 1,160 3,150 M3,163 L2,120 C4,70 12,40 27,38"/>
<path class="an am" d="M30,337 C25,395 30,430 47,451 C65,472 80,483 99,491 C130,505 160,515 190,523 C250,540 300,552 356,560 C400,566 430,567 455,565 C490,562 525,559 554,557 C580,553 600,546 621,538 C650,526 670,515 687,506 C715,492 745,473 770,457 C795,441 815,435 837,425 C855,415 868,395 882,384 C895,375 905,370 918,367"/>
<path class="an am" d="M888,362 L918,367 L906,403"/>
<path class="an am" d="M880,392 C895,384 907,380 920,380 C950,384 1000,396 1042,404"/>
<path class="an am" d="M1020,389 L1042,404 L1024,422"/>
<path class="an am" d="M818,322 C830,328 840,334 846,338 C858,345 866,354 872,364 C878,376 878,385 876,392"/>
<path class="an am" d="M818,351 L818,322 L842,335"/>
<path class="an am" d="M581,325 C587,330 590,334 593,338 C600,352 605,362 609,376 C615,395 619,412 621,430 C623,450 623,465 622,479 C619,495 612,507 604,517 C597,528 590,538 583,547 C578,552 572,556 566,558"/>
<path class="an am" d="M573,348 L581,325 L599,332"/>
<path class="an ye" d="M330,86 C322,62 338,48 357,47 C378,47 384,70 378,85 C372,98 352,102 340,98 C333,95 330,91 333,87"/>
<path class="an ye" d="M360,49 C362,30 368,12 377,0"/>
<path class="an ye" d="M362,48 C370,22 385,8 410,4 C440,2 460,10 480,20 C500,30 512,44 523,55 C540,72 550,80 559,90 C572,110 580,125 586,142 C596,170 602,195 606,218 C610,235 612,248 614,261 C620,300 626,380 629,425 C632,448 640,465 650,478 C657,486 664,490 672,495"/>
<path class="an ye" d="M658,494 L672,495 L670,482"/>
<path class="an ye" d="M503,0 C520,20 535,40 547,60 C556,78 566,96 575,114 C588,140 600,165 614,191 C620,208 626,225 634,241"/>
<path class="an ye" d="M614,233 L634,241 L637,220"/>
<path class="an gr" d="M127,51 C118,90 118,150 126,172 C134,186 156,186 165,162 C172,120 166,70 151,50 C143,41 134,40 125,52"/>
<path class="an gr" d="M100,49 C110,42 125,40 140,44 C170,35 230,28 333,26 C400,26 450,32 523,50 C560,60 585,68 606,76 C640,88 665,96 685,103 C710,113 728,121 745,131 C762,142 775,150 784,158 C800,175 812,185 824,196 C840,212 858,230 876,244"/>
<path class="an gr" d="M838,238 C855,240 868,243 876,244 L890,227"/>
<path class="an gr" d="M784,158 C815,170 850,180 883,191 C915,205 950,222 987,245"/>
<path class="an gr" d="M977,218 L987,245 L969,241"/>
<path class="an gr" d="M921,234 L921,252 M921,252 C911,256 908,270 914,278 C920,286 936,284 940,274 C944,262 936,252 921,252"/>
<ellipse class="an gr" cx="1050" cy="265" rx="17" ry="15"/>
<path class="an wh" d="M350,107 C360,80 390,35 410,19 C420,25 426,70 427,190 C428,260 425,310 418,332 C410,339 395,336 380,330 C365,320 350,300 347,272 C344,220 345,160 347,122"/>
<path class="an wh" d="M400,330 C420,350 450,366 490,376 C530,388 570,396 609,403 C640,409 665,414 688,419 C730,427 765,433 799,438"/>
<path class="an wh" d="M774,425 L799,438 L780,452"/>
<path class="an bl" d="M437,110 C440,95 450,88 458,88 C470,90 478,100 482,160 C488,240 487,300 478,315 C470,325 455,325 447,315 C432,290 428,200 430,140 C431,120 433,105 437,95"/>
<path class="an bl" d="M467,325 C466,345 468,364 480,370 C500,374 540,370 569,365 C590,358 608,346 621,337 C632,331 640,328 648,325"/>
<path class="an bl" d="M621,329 L648,325 L636,348"/>
<path class="an rd" d="M486,140 C484,120 484,100 490,93 C500,88 512,90 516,100 C520,140 520,250 516,295 C513,305 500,307 493,300 C490,290 490,200 488,130"/>
<path class="an rd" d="M497,321 C500,335 505,350 508,365"/><path class="an rd" d="M497,350 L508,365 L512,348"/>
<path class="an rd" d="M183,346 L194,423 M259,331 C240,370 215,400 194,423 M311,339 C270,370 230,395 194,423"/>
<circle cx="194" cy="423" r="3.5" fill="#ff1414"/>
<path class="an rd" d="M194,423 C180,460 183,530 200,560 C210,575 215,580 222,586 C240,610 262,626 290,634 C315,640 335,641 356,640 C400,640 440,633 475,620 C492,612 505,603 515,595"/>
<path class="an rd" d="M493,600 L515,595 L505,626"/>
<path class="an mg" d="M53,130 C55,115 62,110 68,110 C78,112 80,130 79,200 C78,260 75,310 68,325 C63,335 57,330 55,310 C52,250 52,160 50,125"/>
<path class="an mg" d="M67,316 C72,360 75,380 79,404 C85,440 90,470 99,498 C115,540 135,568 158,592 C185,625 210,658 237,679 C265,702 292,724 317,741 C345,758 370,768 396,773 C425,781 450,786 475,788 C530,790 580,785 621,779 C650,776 680,772 705,768 C750,760 790,750 817,740 C845,728 862,714 877,700 C895,680 905,665 919,643"/>
<path class="an mg" d="M882,661 L917,644 M913,675 L917,644 L921,676"/>
<path class="an mg" d="M963,651 L977,555 M956,577 C962,566 970,558 977,555 L993,584"/>
<path class="an mg" d="M987,629 C1005,630 1020,631 1037,633 M1005,664 C1015,652 1026,640 1037,633 M901,683 C940,662 990,645 1037,632"/>
<path class="an mg" d="M1069,633 L1072,563 M1051,595 L1072,563 L1087,596"/>
<path class="an mg" d="M989,651 C1050,644 1110,638 1160,634 M1108,618 C1130,624 1145,630 1160,634 M1119,659 C1135,648 1148,640 1160,634"/>
<path class="an mg" d="M1181,637 L1173,562 M1153,593 L1173,562 L1192,603"/>
<path class="an mg" d="M1232,615 C1250,618 1265,622 1281,626 M1237,659 C1250,648 1265,636 1281,626"/>
<path class="an mg" d="M1250,600 L1258,553 M1234,591 L1258,553 L1266,592"/>
<path class="an mg" d="M956,674 L948,697 M937,686 L948,697 L958,684"/>
<path class="an mg" d="M1048,672 L1037,694 M1032,675 L1037,694 L1050,684"/>
<path class="an mg" d="M1200,651 C1204,670 1208,685 1211,701 M1194,690 L1211,701 L1215,675"/>
<path class="an mg" d="M1255,656 C1275,680 1295,700 1311,717 M1268,694 L1311,717 M1299,681 L1308,717"/>
</svg>
</body></html>
